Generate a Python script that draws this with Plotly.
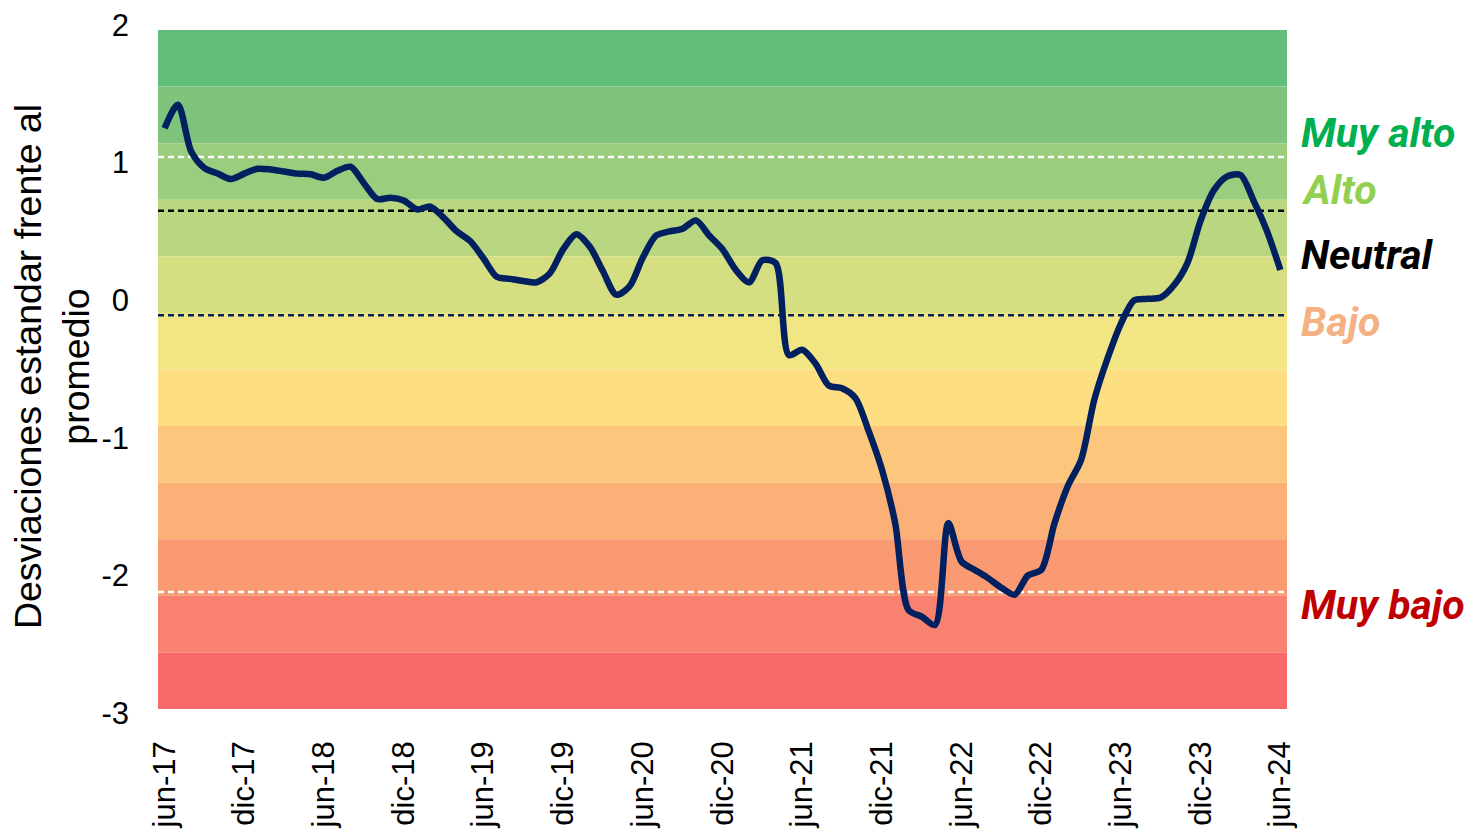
import plotly.graph_objects as go

# ---- data ----
months_es = ["jun", "jul", "ago", "sep", "oct", "nov", "dic", "ene", "feb", "mar", "abr", "may"]
categories = []
for i in range(85):
    m = months_es[i % 12]
    yr = 17 + (i + 5) // 12
    categories.append(f"{m}-{yr:02d}")

values = [
    1.25, 1.42, 1.08, 0.96, 0.92, 0.88, 0.92, 0.955, 0.95, 0.935, 0.92, 0.915,
    0.89, 0.94, 0.97, 0.85, 0.735, 0.745, 0.725, 0.66, 0.68, 0.60, 0.50, 0.43,
    0.305, 0.17, 0.155, 0.14, 0.13, 0.195, 0.37, 0.48, 0.39, 0.21, 0.04, 0.10,
    0.31, 0.47, 0.50, 0.52, 0.58, 0.47, 0.37, 0.22, 0.13, 0.29, 0.27, -0.40,
    -0.36, -0.46, -0.62, -0.64, -0.71, -0.95, -1.23, -1.62, -2.25, -2.30, -2.36, -1.62,
    -1.90, -1.96, -2.02, -2.09, -2.14, -2.00, -1.96, -1.62, -1.35, -1.16, -0.72, -0.42,
    -0.17, 0.00, 0.01, 0.02, 0.11, 0.27, 0.58, 0.80, 0.90, 0.91, 0.72, 0.50,
    0.22,
]

tick_labels = [c for i, c in enumerate(categories) if i % 6 == 0]
y_tick_vals = [-3, -2, -1, 0, 1, 2]
y_tick_text = ["-3", "-2", "-1", "0", "1", "2"]

threshold_names = ["Muy alto", "Alto", "Neutral", "Bajo", "Muy bajo"]
threshold_label_y = [1.215, 0.80, 0.33, -0.155, -2.215]
threshold_label_colors = ["#00B050", "#92D050", "#000000", "#F4B183", "#C00000"]

dashed_levels = [1.04, 0.65, -0.11, -2.12]
dashed_colors = ["#FFFFFF", "#000000", "#002060", "#FFFFFF"]

band_colors = ["#63BE7B", "#7FC47C", "#9BCD7E", "#B8D780", "#D5DF82", "#F1E683",
               "#FDDE82", "#FCC77C", "#FAB077", "#F99A73", "#F8816F", "#F8696B"]
band_top = 1.964
band_bottom = -2.971

fig = go.Figure()

shapes = []
n = len(band_colors)
h = (band_top - band_bottom) / n
for k, col in enumerate(band_colors):
    shapes.append(dict(type="rect", xref="paper", yref="y", x0=0, x1=1,
                       y0=band_top - (k + 1) * h, y1=band_top - k * h,
                       fillcolor=col, line=dict(width=0), layer="below"))
for lv, col in zip(dashed_levels, dashed_colors):
    shapes.append(dict(type="line", xref="paper", yref="y", x0=0.0, x1=1.0,
                       y0=lv, y1=lv, line=dict(color=col, width=2.5, dash="6px,4px"),
                       layer="below"))

fig.add_trace(go.Scatter(
    x=categories, y=values, mode="lines",
    line=dict(color="#002060", width=6.5, shape="spline", smoothing=0.8),
    hoverinfo="skip", showlegend=False,
))

annotations = []
for name, yv, col in zip(threshold_names, threshold_label_y, threshold_label_colors):
    annotations.append(dict(text=f"<b><i>{name}</i></b>", x=1.0105, xref="paper", y=yv, yref="y",
                            xanchor="left", yanchor="middle", showarrow=False,
                            font=dict(family="Roboto", size=41, color=col)))
annotations.append(dict(text="Desviaciones estandar frente al<br>promedio",
                        x=-0.094, xref="paper", y=0.504, yref="paper",
                        xanchor="center", yanchor="middle", showarrow=False, textangle=-90,
                        font=dict(family="Liberation Sans", size=37.5, color="#000000")))

fig.update_layout(
    template="none",
    width=1465, height=825,
    margin=dict(l=150, r=186, t=17, b=120, autoexpand=False),
    paper_bgcolor="white", plot_bgcolor="white",
    shapes=shapes, annotations=annotations,
    font=dict(family="Liberation Sans", size=31, color="#000000"),
    xaxis=dict(type="category", tickmode="array", tickvals=tick_labels, ticktext=tick_labels,
               tickangle=-90, showgrid=False, zeroline=False, showline=False,
               ticks="", ticklabelstandoff=21, range=[-0.5, 84.5], automargin=False,
               ticklabeloverflow="allow",
               tickfont=dict(family="Liberation Sans", size=31, color="#000000")),
    yaxis=dict(range=[-3, 2], tickmode="array", tickvals=y_tick_vals, ticktext=y_tick_text,
               showgrid=False, zeroline=False, showline=False, ticks="",
               ticklabelstandoff=28, automargin=False, ticklabeloverflow="allow",
               tickfont=dict(family="Liberation Sans", size=31, color="#000000")),
)

fig.write_html("out.html")
